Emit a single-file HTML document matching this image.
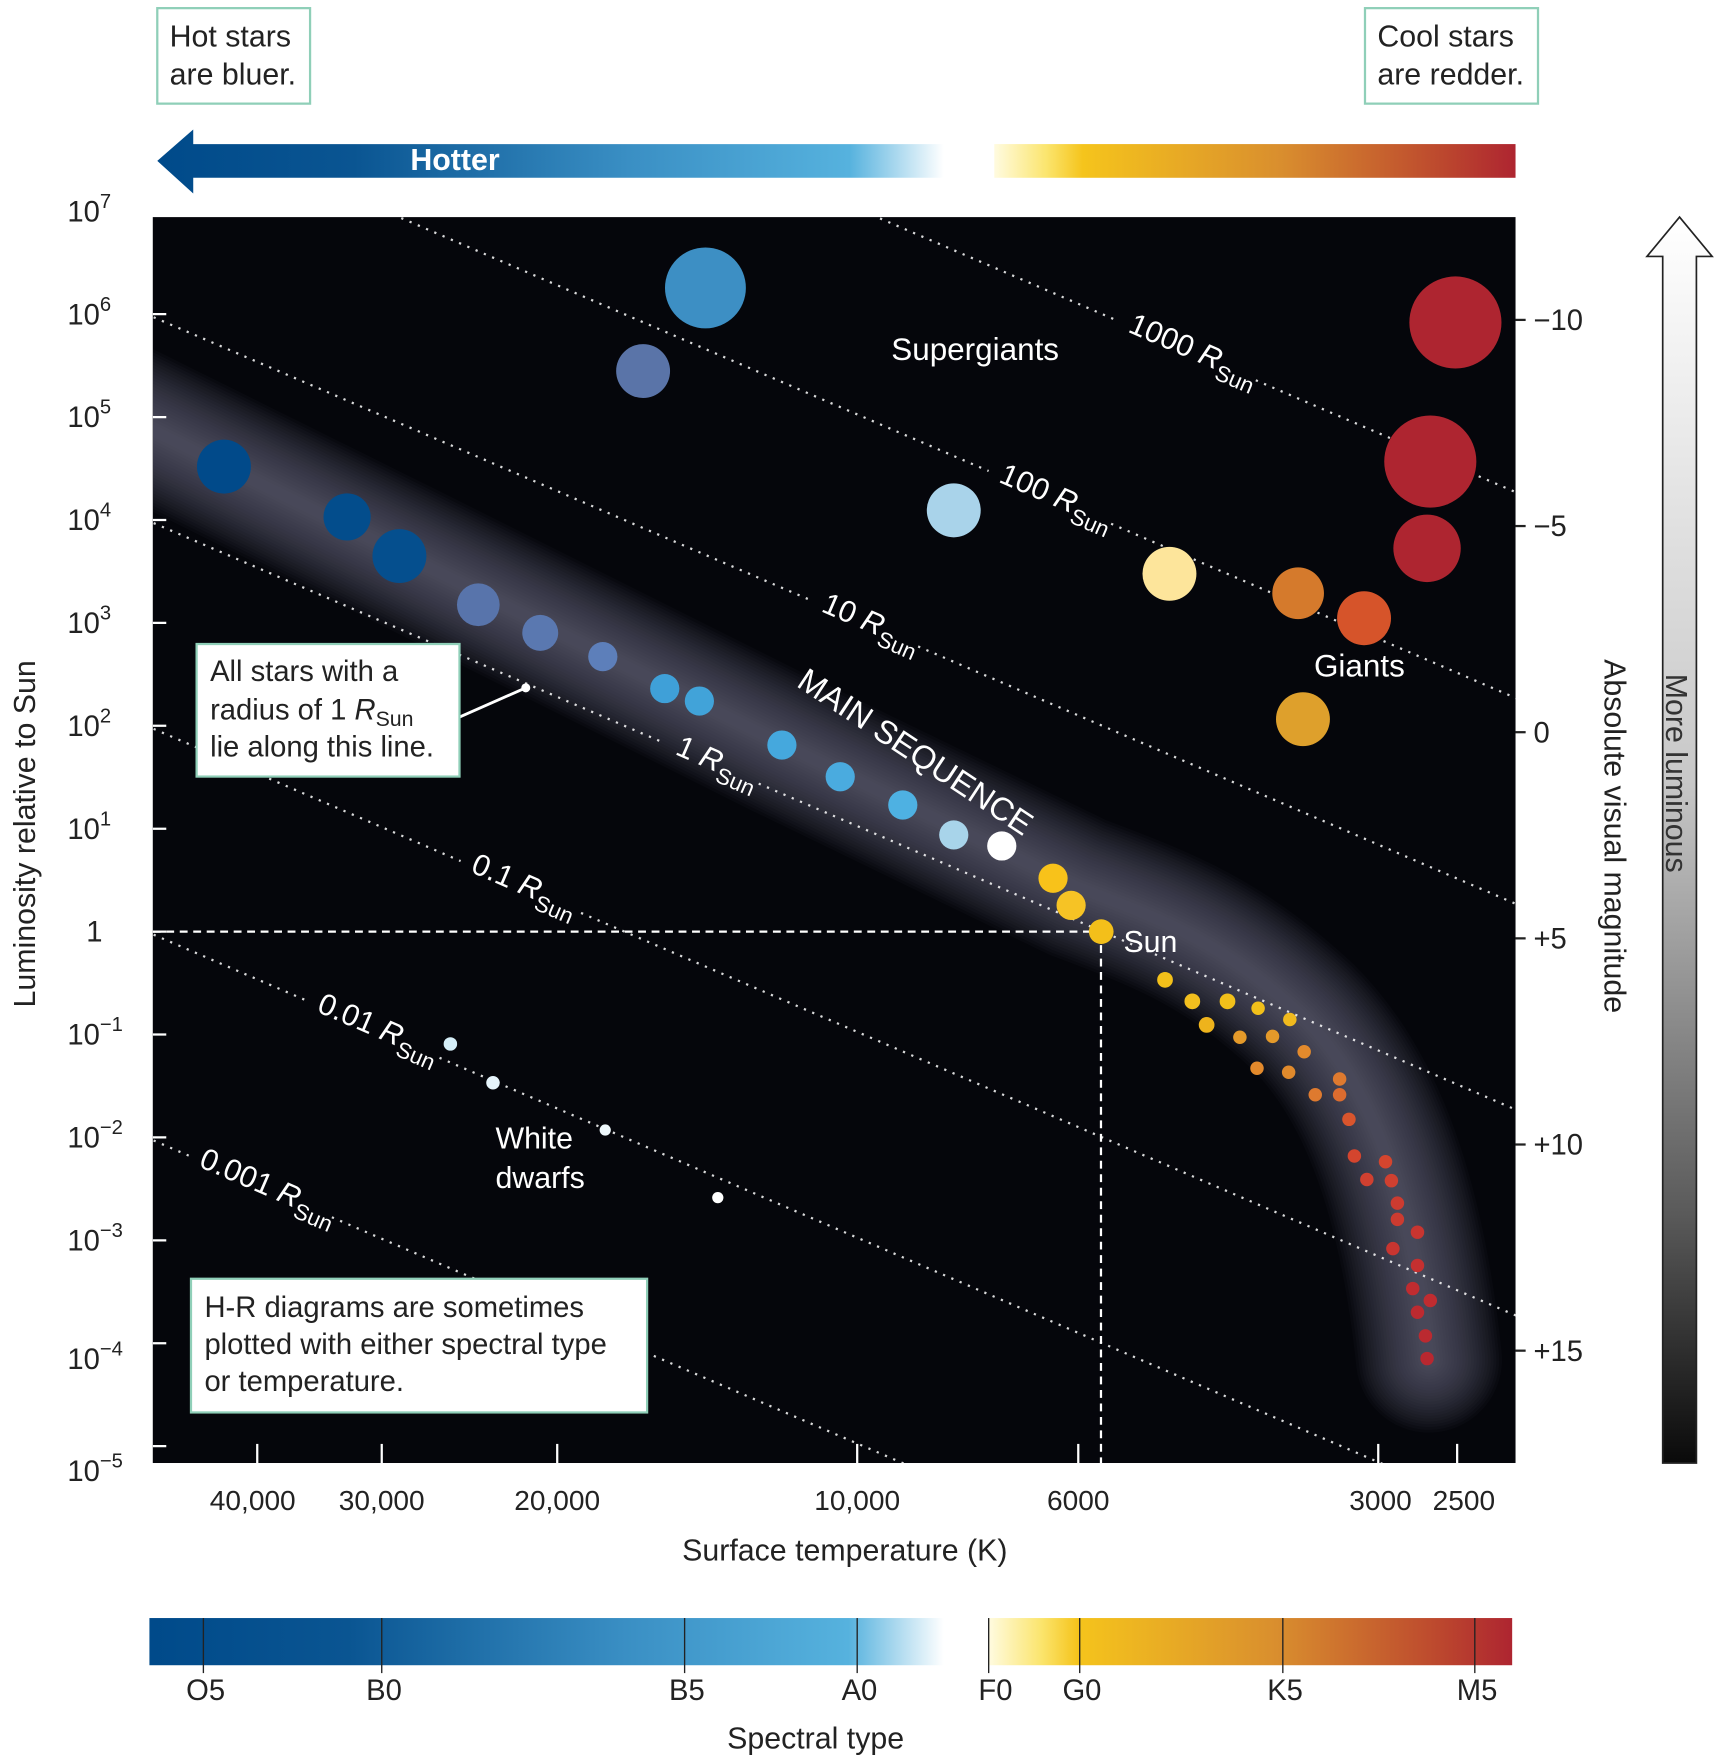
<!DOCTYPE html>
<html><head><meta charset="utf-8"><title>H-R Diagram</title>
<style>
html,body{margin:0;padding:0;background:#fff;}
svg{display:block;font-family:"Liberation Sans",Arial,sans-serif;}
</style></head>
<body>
<svg id="chart" width="1720" height="1761" viewBox="0 0 1531 1567" xmlns="http://www.w3.org/2000/svg">
<defs>
  <linearGradient id="gHot" x1="0" x2="1" y1="0" y2="0">
    <stop offset="0" stop-color="#004a8a"/><stop offset="0.25" stop-color="#0a5592"/>
    <stop offset="0.6" stop-color="#3a8fc4"/><stop offset="0.88" stop-color="#56b2de"/>
    <stop offset="1" stop-color="#ffffff"/>
  </linearGradient>
  <linearGradient id="gCool" x1="0" x2="1" y1="0" y2="0">
    <stop offset="0" stop-color="#fffbe0"/><stop offset="0.1" stop-color="#fbe56e"/>
    <stop offset="0.17" stop-color="#f5c41c"/><stop offset="0.55" stop-color="#d98e2e"/>
    <stop offset="0.85" stop-color="#bd4a2e"/><stop offset="1" stop-color="#ae2530"/>
  </linearGradient>
  <linearGradient id="gLum" x1="0" x2="0" y1="0" y2="1">
    <stop offset="0" stop-color="#ffffff"/><stop offset="0.45" stop-color="#c8c8c8"/>
    <stop offset="0.8" stop-color="#5a5a5a"/><stop offset="1" stop-color="#0a0a0a"/>
  </linearGradient>
  <clipPath id="plotClip"><rect x="136" y="193" width="1213" height="1109"/></clipPath>
</defs>

<g>
  <rect x="140" y="7" width="136" height="85" fill="#fff" stroke="#8fcfb8" stroke-width="2"/>
  <text x="151" y="41" font-size="27" fill="#222">Hot stars</text>
  <text x="151" y="75" font-size="27" fill="#222">are bluer.</text>
</g>
<g>
  <rect x="1215" y="7" width="154" height="85" fill="#fff" stroke="#8fcfb8" stroke-width="2"/>
  <text x="1226" y="41" font-size="27" fill="#222">Cool stars</text>
  <text x="1226" y="75" font-size="27" fill="#222">are redder.</text>
</g>

<g>
  <polygon points="140,143 172,115 172,128 840,128 840,158 172,158 172,172" fill="url(#gHot)"/>
  <rect x="885" y="128" width="464" height="30" fill="url(#gCool)"/>
  <text x="405" y="151" font-size="27" font-weight="bold" fill="#fff" text-anchor="middle">Hotter</text>
</g>

<rect x="136" y="193" width="1213" height="1109" fill="#05060b"/>
<g clip-path="url(#plotClip)">
  <g id="band" fill="none" stroke="#74748f" stroke-linecap="round" stroke-linejoin="round"></g>
  <g id="radiusLines"></g>
  <line x1="136" y1="829" x2="980" y2="829" stroke="#fff" stroke-width="2" stroke-dasharray="7 5"/>
  <line x1="980" y1="829" x2="980" y2="1302" stroke="#fff" stroke-width="2" stroke-dasharray="7 5"/>
  <g id="stars"></g>
  <g id="xticks"></g>
  <g id="yticksIn"></g>
</g>

<g id="radiusLabels" fill="#fff" font-size="27"></g>

<text x="868" y="320" font-size="28" fill="#fff" text-anchor="middle">Supergiants</text>
<text x="1210" y="602" font-size="28" fill="#fff" text-anchor="middle">Giants</text>
<text transform="translate(708,610) rotate(33.5)" font-size="29" fill="#fff">MAIN SEQUENCE</text>
<text x="1000" y="847" font-size="27" fill="#fff">Sun</text>
<text x="441" y="1022" font-size="27" fill="#fff">White</text>
<text x="441" y="1057" font-size="27" fill="#fff">dwarfs</text>

<g>
  <line x1="409" y1="638" x2="468" y2="612" stroke="#fff" stroke-width="2.5"/>
  <circle cx="468" cy="612" r="4" fill="#fff"/>
  <rect x="175" y="573" width="234" height="118" fill="#fff" stroke="#8fcfb8" stroke-width="2"/>
  <text x="187" y="606" font-size="26" fill="#222">All stars with a</text>
  <text x="187" y="640" font-size="26" fill="#222">radius of 1 <tspan font-style="italic">R</tspan><tspan font-size="19" dy="6">Sun</tspan></text>
  <text x="187" y="673" font-size="26" fill="#222">lie along this line.</text>
</g>
<g>
  <rect x="170" y="1138" width="406" height="119" fill="#fff" stroke="#8fcfb8" stroke-width="2"/>
  <text x="182" y="1172" font-size="26" fill="#222">H-R diagrams are sometimes</text>
  <text x="182" y="1205" font-size="26" fill="#222">plotted with either spectral type</text>
  <text x="182" y="1238" font-size="26" fill="#222">or temperature.</text>
</g>

<g id="ylabels" font-size="26" fill="#222"></g>
<g id="xlabels" font-size="25" fill="#222"></g>
<g id="maglabels" font-size="26" fill="#222"></g>

<text transform="translate(31,742) rotate(-90)" font-size="27" fill="#222" text-anchor="middle">Luminosity relative to Sun</text>
<text x="752" y="1389" font-size="27" fill="#222" text-anchor="middle">Surface temperature (K)</text>
<text transform="translate(1428,744) rotate(90)" font-size="27" fill="#222" text-anchor="middle">Absolute visual magnitude</text>

<g>
  <polygon points="1480,1302 1480,228 1466,228 1495,193 1524,228 1510,228 1510,1302" fill="url(#gLum)" stroke="#222" stroke-width="1.5"/>
  <text transform="translate(1483,688) rotate(90)" font-size="27" fill="#333" text-anchor="middle">More luminous</text>
</g>

<g>
  <rect x="133" y="1440" width="707" height="42" fill="url(#gHot)"/>
  <rect x="880" y="1440" width="466" height="42" fill="url(#gCool)"/>
  <g id="spectral"></g>
</g>
<text x="726" y="1556" font-size="27" fill="#222" text-anchor="middle">Spectral type</text>

<script>
// ---- data ----
const msTemps = [43200,32500,28800,24000,20800,18000,15600,14400,11900,10400,9000,8000,7160,6360,6100,5690,
  4910,4610,4250,3960,3680,4460,4130,3830,3560,3970,3690,3470,3280,3280,3210,3170,2950,3080,2910,2870,2870,2740,2900,2740,2770,2660,2740,2690,2680];
const msLums = [33000,10700,4460,1500,800,470,230,174,65,32,17,8.7,6.8,3.3,1.8,1,
  0.34,0.21,0.21,0.18,0.14,0.124,0.094,0.096,0.068,0.047,0.043,0.026,0.037,0.026,0.015,0.0066,0.0058,0.0039,0.0038,0.0023,0.0016,0.0012,0.00083,0.00057,0.00034,0.00026,0.0002,0.000118,0.000071];
const giantTemps = [14200,16400,8000,4860,3610,3100,3570,2680,2660,2510];
const giantLums = [1.8e6,2.8e5,1.24e4,3000,1940,1110,116,5300,3.7e4,8.3e5];
const wdTemps = [25600,23200,17900,13800];
const wdLums = [0.081,0.034,0.0118,0.0026];
const radii = [1000,100,10,1,0.1,0.01,0.001];
const radiusLabels = ["1000","100","10","1","0.1","0.01","0.001"];
const tempTicks = [40000,30000,20000,10000,6000,3000,2500];
const tempTickLabels = ["40,000","30,000","20,000","10,000","6000","3000","2500"];
const lumExps = [7,6,5,4,3,2,1,0,-1,-2,-3,-4,-5];
const magTicks = [-10,-5,0,5,10,15];
const magLabels = ["\u221210","\u22125","0","+5","+10","+15"];
const spectralTypes = ["O5","B0","B5","A0","F0","G0","K5","M5"];
const spectralTemps = [45300,30000,14900,10000,7380,5980,3740,2400];

// ---- styles ----
const msColors = ["#014a8a","#034d8c","#054f8e","#5874ab","#5a78b0","#5d7fba","#3fa0d8","#41a3d9","#45a8dd","#4aabdf","#4eb1e2","#a8d4ea","#ffffff","#f8c21a","#f6c325","#f3bf1a",
  "#f2c01a","#f2bf1e","#f2c01a","#f2c01a","#f0ba1e","#eeb31c","#e49a2a","#e49a2a","#e38a2c","#e38a2c","#e08a2c","#de7a2f","#de7a2f","#dc6c2f","#d9552d","#d4452e","#d4452e","#d04030","#d04030","#cc3b30","#cc3b30","#c83530","#c83530","#c43030","#c02c30","#c02c30","#bd2a30","#bb2a30","#b82830"];
const msSizes = [24,21,24,19,16,13,13,13,13,13,13,13,13,13,13,11,7,7,7,6,6,7,6,6,6,6,6,6,6,6,6,6,6,6,6,6,6,6,6,6,6,6,6,6,6];
const giantColors = ["#3d8fc4","#5a74a8","#a9d3ea","#fde59b","#d57a2c","#d6542a","#dea02c","#ae2530","#ae2530","#ae2530"];
const giantSizes = [36,24,24,24,23,24,24,30,41,41];
const wdColors = ["#d5eef8","#e6f4fb","#eef8fc","#ffffff"];
const wdSizes = [6,6,5,5];

// ---- axes ----
const X0 = 763, XPD = 887, Y0 = 829, YPD = 91.6;
const xScale = t => X0 + (4 - Math.log10(t)) * XPD;
const yScale = l => Y0 - Math.log10(l) * YPD;
const yExp = e => Y0 - e * YPD;
const magY = m => 835 + (m - 5) * 36.7;
const NS = "http://www.w3.org/2000/svg";
function mk(tag, attrs, parent){const e=document.createElementNS(NS,tag);for(const k in attrs)e.setAttribute(k,attrs[k]);parent.appendChild(e);return e;}
function span(parent, txt, attrs){const s=mk('tspan',attrs||{},parent);s.textContent=txt;return s;}

// main sequence glow band (many soft layered strokes)
const bandPath = "M100,365 L360,494 L700,664 L960,790 C1040,820 1090,840 1160,905 C1215,960 1255,1050 1272,1210";
const bg = document.getElementById('band');
for (let w = 130; w >= 10; w -= 5) {
  const p = mk('path',{d:bandPath,'stroke-width':w,opacity:0.045},bg);
  
  
}

// radius lines
const TSUN = 5675, KEXP = 4.17;
const lineY = (R, x) => { const t = Math.pow(10, 4 - (x - X0)/XPD); return yScale(R*R*Math.pow(t/TSUN,KEXP)); };
const rl = document.getElementById('radiusLines');
const rlab = document.getElementById('radiusLabels');
const labelX = [1003,888,730,600,418,281,176];
const labelW = [125,110,95,82,108,120,130];
const ang = Math.atan((lineY(1,1000)-lineY(1,100))/900)*180/Math.PI;
const cosA = Math.cos(ang*Math.PI/180);
radii.forEach((R,i)=>{
  const lx = labelX[i], gx1 = lx - 8, gx2 = lx + labelW[i]*cosA;
  [[100,gx1],[gx2,1400]].forEach(seg=>{
    const ln = mk('line',{x1:seg[0],y1:lineY(R,seg[0]),x2:seg[1],y2:lineY(R,seg[1]),stroke:'#fff','stroke-width':2,'stroke-dasharray':'2 6',opacity:0.85},rl);
    
    
  });
  const ly = lineY(R,lx) + 6;
  const tx = mk('text',{transform:`translate(${lx},${ly}) rotate(${ang})`},rlab);
  
  
  span(tx, radiusLabels[i]+' ');
  span(tx, 'R', {'font-style':'italic'});
  span(tx, 'Sun', {'font-size':20, dy:8});
});

// stars
const sg = document.getElementById('stars');
function drawStars(T,L,C,S,name){
  T.forEach((t,i)=>{
    const c = mk('circle',{cx:xScale(t),cy:yScale(L[i]),r:S[i],fill:C[i]},sg);
    
    
  });
}
drawStars(msTemps,msLums,msColors,msSizes,'main-sequence');
drawStars(giantTemps,giantLums,giantColors,giantSizes,'giant');
drawStars(wdTemps,wdLums,wdColors,wdSizes,'white-dwarf');

// x ticks & labels
const xt = document.getElementById('xticks'), xl = document.getElementById('xlabels');
tempTicks.forEach((t,i)=>{
  const l = mk('line',{x1:xScale(t),x2:xScale(t),y1:1285,y2:1302,stroke:'#fff','stroke-width':2},xt);
  
  
  const tx = mk('text',{x:xScale(t)-(i===0?4:0)+(i===6?6:0)+(i===5?2:0),y:1344,'text-anchor':'middle'},xl);
  
  
  tx.textContent = tempTickLabels[i];
});

// y labels
const yl = document.getElementById('ylabels'), yti = document.getElementById('yticksIn');
lumExps.forEach(e=>{
  const y = yExp(e);
  const tk = mk('line',{x1:136,x2:148,y1:y,y2:y,stroke:'#fff','stroke-width':2},yti);
  
  
  const ty = y + 9 + (e===-4 ? 14 : 0) + (e===-5 ? 22 : 0);
  const tx = mk('text',{x:e===0?84:60,y:ty,'text-anchor':e===0?'middle':'start'},yl);
  
  
  if(e===0){ tx.textContent='1'; }
  else {
    span(tx,'10');
    span(tx,(e<0?'\u2212'+(-e):String(e)),{'font-size':18,dy:-12});
  }
});

// magnitude
const ml = document.getElementById('maglabels');
magTicks.forEach((m,i)=>{
  const y = magY(m);
  const tk = mk('line',{x1:1349,x2:1358,y1:y,y2:y,stroke:'#222','stroke-width':2},ml);
  
  
  const tx = mk('text',{x:1365,y:y+9},ml);
  
  
  tx.textContent = magLabels[i];
});

// spectral types
const sp = document.getElementById('spectral');
spectralTypes.forEach((s,i)=>{
  const x = xScale(spectralTemps[i]);
  const tk = mk('line',{x1:x,x2:x,y1:1440,y2:1489,stroke:'#222','stroke-width':1.2},sp);
  
  
  const tx = mk('text',{x:x+(i===4?6:2),y:1513,'font-size':26,fill:'#222','text-anchor':'middle'},sp);
  
  
  tx.textContent = s;
});
</script>
</body></html>
